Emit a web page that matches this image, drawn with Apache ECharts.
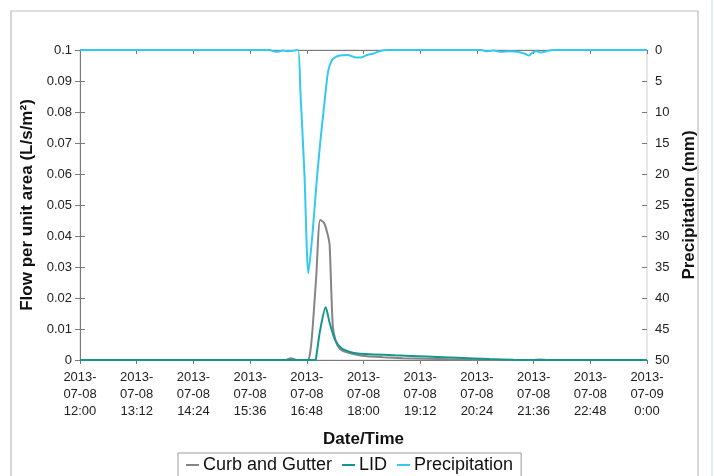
<!DOCTYPE html>
<html>
<head>
<meta charset="utf-8">
<style>
html,body{margin:0;padding:0;background:#fff;}
#c{width:714px;height:476px;}
</style>
<script src="https://cdn.jsdelivr.net/npm/echarts@6/dist/echarts.min.js"></script>
</head>
<body>
<div id="c"></div>
<script>
// ---- data (times on 2013-07-08; "24:00" = 2013-07-09 0:00) ----
const xTickLabels = ["2013-\n07-08\n12:00","2013-\n07-08\n13:12","2013-\n07-08\n14:24","2013-\n07-08\n15:36","2013-\n07-08\n16:48","2013-\n07-08\n18:00","2013-\n07-08\n19:12","2013-\n07-08\n20:24","2013-\n07-08\n21:36","2013-\n07-08\n22:48","2013-\n07-09\n0:00"];

const curbTimes  = ["12:00","16:20","16:28","16:36","16:49","16:52","16:55","17:00","17:05","17:10","17:15","17:17","17:21","17:25","17:30","17:35","17:40","17:50","18:05","18:25","18:50","19:20","19:50","20:20","20:50","21:35","21:44","21:54","24:00"];
const curbValues = [0,0,0.0006,0,0,0.002,0.009,0.027,0.0452,0.0442,0.040,0.037,0.011,0.0058,0.0036,0.0028,0.0024,0.0018,0.0012,0.0009,0.0006,0.0004,0.0002,0.0001,0,0,0.0002,0,0];

const lidTimes  = ["12:00","16:59","17:00","17:05","17:12","17:17","17:24","17:32","17:43","17:53","18:40","19:20","20:00","20:40","21:10","21:40","24:00"];
const lidValues = [0,0,0.001,0.0097,0.017,0.012,0.0065,0.0038,0.0026,0.0021,0.0015,0.0011,0.0007,0.0003,0.0001,0,0];

const precipTimes  = ["12:00","16:00","16:10","16:18","16:25","16:32","16:37","16:40","16:45","16:50","16:55","17:00","17:05","17:10","17:15","17:20","17:25","17:30","17:40","17:50","17:57","18:05","18:12","18:20","18:30","20:30","20:35","20:45","20:55","21:05","21:15","21:25","21:30","21:35","21:40","21:45","21:52","22:00","24:00"];
const precipValues = [0,0,0.3,0.1,0.2,0.1,0,7,20,36,30,22,15,9,3.5,1.6,1.1,0.9,0.8,1.2,1.2,0.8,0.6,0.2,0,0,0.2,0.1,0.3,0.2,0.3,0.6,0.9,0.4,0.2,0.4,0.2,0,0];

// minutes after 2013-07-08 12:00
function toMin(t){const p=t.split(':');return (+p[0]-12)*60+(+p[1]);}
function pairs(ts,vs){return ts.map((t,i)=>[toMin(t),vs[i]]);}

const FONT = 'Liberation Sans, Arial, sans-serif';
const AX = '#7a7a7a';
const chart = echarts.init(document.getElementById('c'), null, {renderer:'canvas'});

const xBase = {
  type:'value', min:0, max:720, interval:72,
  splitLine:{show:false},
  axisLine:{lineStyle:{color:AX,width:1}},
};
const lblStyle = {color:'#222', fontFamily:FONT, fontSize:13};
const nameStyle = {fontFamily:FONT, fontSize:17, fontWeight:'bold', color:'#111'};

chart.setOption({
  animation:false,
  backgroundColor:'#fff',
  graphic:[
    {type:'rect', shape:{x:11,y:11,width:687,height:480}, style:{fill:'none',stroke:'#bdbdbd',lineWidth:1.2}, silent:true, z:-10},
    {type:'line', shape:{x1:712,y1:0,x2:712,y2:476}, style:{stroke:'#d5ecef',lineWidth:1.5}, silent:true, z:-10}
  ],
  grid:{left:80, right:67, top:50, bottom:116, show:true, borderColor:'#cfcfcf', borderWidth:1, backgroundColor:'transparent'},
  legend:{
    left:178, top:453, orient:'horizontal',
    borderColor:'#9a9a9a', borderWidth:1, padding:[3,8,8,8], itemGap:10,
    itemWidth:13, itemHeight:2, icon:'rect',
    textStyle:{fontFamily:FONT, fontSize:18, color:'#111', padding:[0,0,0,-1]},
    data:['Curb and Gutter','LID','Precipitation']
  },
  xAxis:[
    Object.assign({}, xBase, {
      name:'Date/Time', nameLocation:'middle', nameGap:71,
      nameTextStyle:nameStyle,
      axisTick:{show:true, inside:false, length:4, lineStyle:{color:AX}},
      axisLabel:Object.assign({}, lblStyle, {lineHeight:17, margin:9, showMinLabel:true, showMaxLabel:true,
        formatter:(v)=>xTickLabels[Math.round(v/72)]})
    }),
    Object.assign({}, xBase, {
      axisTick:{show:true, inside:true, length:4, lineStyle:{color:AX}},
      axisLabel:{show:false}
    })
  ],
  yAxis:[
    {
      type:'value', min:0, max:0.1, interval:0.01, position:'left',
      name:'Flow per unit area (L/s/m²)', nameLocation:'middle', nameGap:38, nameRotate:90,
      nameTextStyle:nameStyle,
      splitLine:{show:false},
      axisLine:{show:true, lineStyle:{color:AX}},
      axisTick:{show:true, inside:false, length:5, lineStyle:{color:AX}},
      axisLabel:Object.assign({}, lblStyle, {margin:8, formatter:(v)=>String(+v.toFixed(2))})
    },
    {
      type:'value', min:0, max:50, interval:5, position:'right', inverse:true,
      name:'Precipitation (mm)', nameLocation:'middle', nameGap:33, nameRotate:90,
      nameTextStyle:nameStyle,
      splitLine:{show:false},
      axisLine:{show:true, lineStyle:{color:AX}},
      axisTick:{show:true, inside:false, length:5, lineStyle:{color:AX}},
      axisLabel:Object.assign({}, lblStyle, {margin:8})
    },
    {
      type:'value', min:0, max:50, interval:5, position:'right', inverse:true,
      splitLine:{show:false},
      axisLine:{show:false},
      axisTick:{show:true, inside:true, length:5, lineStyle:{color:AX}},
      axisLabel:{show:false}
    }
  ],
  series:[
    {name:'Curb and Gutter', type:'line', xAxisIndex:0, yAxisIndex:0, data:pairs(curbTimes,curbValues),
     showSymbol:false, smooth:0.25, color:'#858585', lineStyle:{width:2,color:'#858585'}, z:2},
    {name:'LID', type:'line', xAxisIndex:0, yAxisIndex:0, data:pairs(lidTimes,lidValues),
     showSymbol:false, smooth:0.25, color:'#14968f', lineStyle:{width:2,color:'#14968f'}, z:3},
    {name:'Precipitation', type:'line', xAxisIndex:0, yAxisIndex:1, data:pairs(precipTimes,precipValues),
     showSymbol:false, smooth:0.25, color:'#33c9f2', lineStyle:{width:2,color:'#33c9f2'}, z:4}
  ]
});
</script>
</body>
</html>
